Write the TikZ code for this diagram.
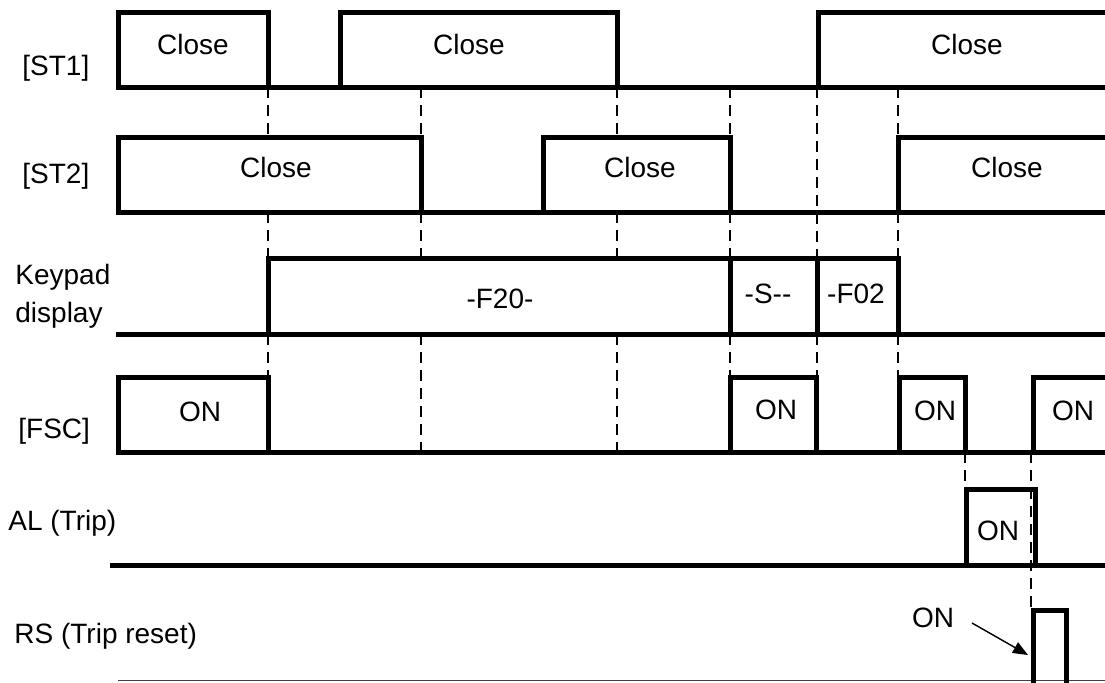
\documentclass[tikz,border=0pt]{standalone}
\usepackage{fontspec}
\setmainfont{Liberation Sans}[Ligatures=NoCommon]
\usetikzlibrary{arrows.meta}
\begin{document}
\begin{tikzpicture}[x=0.5pt,y=-0.5pt,
  wave/.style={line width=2.5pt, line join=miter, line cap=rect},
  guide/.style={line width=1pt, dash pattern=on 5.5pt off 3.5pt},
  txt/.style={font=\fontsize{14}{17}\selectfont, inner sep=0pt, anchor=base},
  sig/.style={font=\fontsize{14}{17}\selectfont, inner sep=0pt, anchor=base west}]
\useasboundingbox (0,0) rectangle (1105,682);

% ---- dashed guide lines
\foreach \x/\a/\b in {268/87/137, 268/212/258, 268/334/377,
                      421/87/137, 421/212/258, 421/334/452,
                      617/87/137, 617/212/258, 617/334/452,
                      730/87/137, 730/212/258, 730/334/377,
                      817/87/258, 817/334/377,
                      898/87/137, 898/212/258, 898/334/377,
                      965/452/489, 1031/452/610}
  \draw[guide] (\x,\a) -- (\x,\b);

% ---- [ST1]
\draw[wave] (118,87) -- (1112,87);
\draw[wave] (118,87) -- (118,12) -- (268,12) -- (268,87);
\draw[wave] (340,87) -- (340,12) -- (617,12) -- (617,87);
\draw[wave] (818,87) -- (818,12) -- (1112,12);
\node[txt] (c11) at (193,54) {Close};
\node[txt] (c12) at (469,54) {Close};
\node[txt] (c13) at (967,54) {Close};

% ---- [ST2]
\draw[wave] (118,212) -- (1112,212);
\draw[wave] (118,212) -- (118,137) -- (421,137) -- (421,212);
\draw[wave] (543,212) -- (543,137) -- (730,137) -- (730,212);
\draw[wave] (898,212) -- (898,137) -- (1112,137);
\node[txt] (c21) at (276,177) {Close};
\node[txt] (c22) at (640,177) {Close};
\node[txt] (c23) at (1007,177) {Close};

% ---- Keypad display
\draw[wave] (118,334) -- (1112,334);
\draw[wave] (268,334) -- (268,258) -- (898,258) -- (898,334);
\draw[wave] (730,258) -- (730,334);
\draw[wave] (817,258) -- (817,334);
\node[txt] (kf20) at (500,308) {-F20-};
\node[txt] (ks) at (768,303) {-S-{}-};
\node[txt] (kf02) at (856,303) {-F02};

% ---- [FSC]
\draw[wave] (118,452) -- (1112,452);
\draw[wave] (118,452) -- (118,377) -- (268,377) -- (268,452);
\draw[wave] (730,452) -- (730,377) -- (816,377) -- (816,452);
\draw[wave] (899,452) -- (899,377) -- (965,377) -- (965,452);
\draw[wave] (1033,452) -- (1033,377) -- (1112,377);
\node[txt] (f1) at (200,421) {ON};
\node[txt] (f2) at (776,419) {ON};
\node[txt] (f3) at (935,420) {ON};
\node[txt] (f4) at (1073,420) {ON};

% ---- AL (Trip)
\draw[wave] (112,565) -- (1112,565);
\draw[wave] (966,565) -- (966,489) -- (1035,489) -- (1035,565);
\node[txt] (alon) at (998,540) {ON};

% ---- RS (Trip reset)
\draw[line width=0.8pt, black!75] (118,680.5) -- (1105,680.5);
\draw[wave] (1033,690) -- (1033,610) -- (1066,610) -- (1066,690);
\node[txt] (rson) at (933,627) {ON};
\coordinate (arrS) at (972,623);
\coordinate (arrE) at (1028,655);
\draw[line width=0.7pt, -{Triangle[length=7.5pt,width=6pt]}] (arrS) -- (arrE);

% ---- signal names
\node[sig] (nst1) at (22,75) {[ST1]};
\node[sig] (nst2) at (22,183) {[ST2]};
\node[sig] (nkp1) at (15,284) {Keypad};
\node[sig] (nkp2) at (15,322) {display};
\node[sig] (nfsc) at (18,438) {[FSC]};
\node[sig] (nal) at (8,530) {AL (Trip)};
\node[sig] (nrs) at (14,643) {RS (Trip reset)};
\end{tikzpicture}
\end{document}
